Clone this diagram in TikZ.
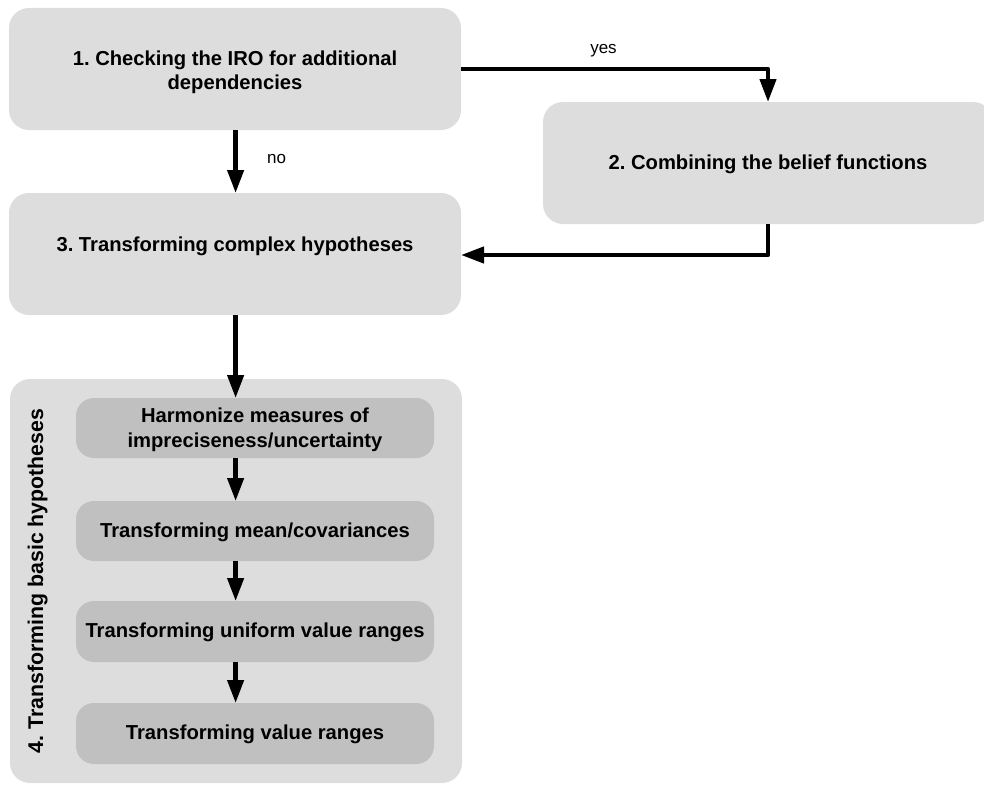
\documentclass[tikz,border=0pt]{standalone}
\usepackage{fontspec}
\setmainfont{Liberation Sans}
\usetikzlibrary{arrows.meta}
\frenchspacing

\definecolor{outergray}{HTML}{DDDDDD}
\definecolor{innergray}{HTML}{C0C0C0}

\tikzset{
  stagebox/.style={rectangle, rounded corners=20pt, fill=outergray, draw=none,
                   inner sep=0pt, outer sep=0pt},
  substep/.style={rectangle, rounded corners=18pt, fill=innergray, draw=none,
                  inner sep=0pt, outer sep=0pt, minimum width=358pt},
  boldtext/.style={anchor=base, inner sep=0pt,
                   font=\fontsize{20.2pt}{23.5pt}\selectfont\bfseries},
  plaintext/.style={anchor=base, inner sep=0pt,
                    font=\fontsize{17pt}{20pt}\selectfont},
  flow/.style={line width=4.3pt, line join=round,
               -{Triangle[length=23pt, width=16pt]}},
}

\begin{document}
\begin{tikzpicture}[x=1pt, y=-1pt]
  \useasboundingbox (0,0) rectangle (984,784);
  \clip (0,0) rectangle (984,784);

  % main stages
  \node[stagebox, minimum width=452pt, minimum height=122pt] (b1) at (235,69) {};
  \node[stagebox, minimum width=450pt, minimum height=122pt] (b2) at (768,163) {};
  \node[stagebox, minimum width=452pt, minimum height=122pt] (b3) at (235,254) {};
  \node[stagebox, minimum width=452pt, minimum height=404pt] (b4) at (236,581) {};

  % sub-steps of stage 4
  \node[substep, minimum height=60pt] (i1) at (255,428) {};
  \node[substep, minimum height=60pt] (i2) at (255,531) {};
  \node[substep, minimum height=61pt] (i3) at (255,631.5) {};
  \node[substep, minimum height=61pt] (i4) at (255,733.5) {};

  % stage titles
  \node[boldtext] (t1a) at (235,66) {1. Checking the IRO for additional};
  \node[boldtext] (t1b) at (235,89.5) {dependencies};
  \node[boldtext] (t2) at (768,169.5) {2. Combining the belief functions};
  \node[boldtext] (t3) at (235,251.5) {3. Transforming complex hypotheses};
  \node[boldtext, font=\fontsize{21.3pt}{24pt}\selectfont\bfseries, rotate=90]
       (t4) at (43,581) {4. Transforming basic hypotheses};

  \node[boldtext] (s1a) at (255,422.5) {Harmonize measures of};
  \node[boldtext] (s1b) at (255,447) {impreciseness/uncertainty};
  \node[boldtext] (s2) at (255,537.5) {Transforming mean/covariances};
  \node[boldtext] (s3) at (255,637.5) {Transforming uniform value ranges};
  \node[boldtext] (s4) at (255,739.5) {Transforming value ranges};

  % branch labels
  \node[plaintext] (yes) at (603.5,54) {yes};
  \node[plaintext] (no) at (276.5,163) {no};

  % connectors
  \coordinate (spine) at ([xshift=0.6pt]b3.south);
  \draw[flow] (b1.east) -| (b2.north);
  \draw[flow] ([xshift=0.6pt]b1.south) -- ([xshift=0.6pt]b3.north);
  \draw[flow] (b2.south) |- ([yshift=-1pt]b3.east);
  \draw[flow] (spine) -- (spine |- i1.north);
  \draw[flow] (spine |- i1.south) -- (spine |- i2.north);
  \draw[flow] (spine |- i2.south) -- (spine |- i3.north);
  \draw[flow] (spine |- i3.south) -- (spine |- i4.north);
\end{tikzpicture}
\end{document}
